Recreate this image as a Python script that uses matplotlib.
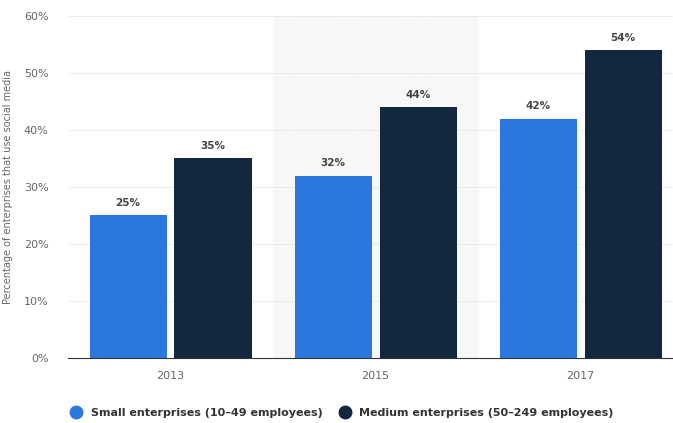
import numpy as np
import matplotlib.pyplot as plt
from matplotlib.lines import Line2D

years = ['2013', '2015', '2017']
small = [25, 32, 42]
medium = [35, 44, 54]
series_names = ['Small enterprises (10–49 employees)', 'Medium enterprises (50–249 employees)']
colors = ['#2b77de', '#13273f']

fig = plt.figure(figsize=(6.73, 4.23), dpi=100)
ax = fig.add_axes([68 / 673, 65 / 423, 605 / 673, 342 / 423])

x = np.arange(len(years))
w = 0.376
off = 0.207

# light band behind the middle group
ax.axvspan(0.5, 1.5, color='#f7f7f7', zorder=0)

b1 = ax.bar(x - off, small, w, color=colors[0], zorder=2)
b2 = ax.bar(x + off, medium, w, color=colors[1], zorder=2)

for bars, vals in ((b1, small), (b2, medium)):
    for rect, v in zip(bars, vals):
        ax.text(rect.get_x() + rect.get_width() / 2, v + 1.3, f'{v}%',
                ha='center', va='bottom', fontsize=7.5, fontweight='bold', color='#444444')

ax.set_xlim(-0.5, 2.45)
ax.set_ylim(0, 60)
ax.set_yticks(range(0, 61, 10))
ax.set_yticklabels([f'{t}%' for t in range(0, 61, 10)])
ax.set_xticks(x)
ax.set_xticklabels(years)
ax.tick_params(axis='both', length=0, labelsize=8, colors='#666666')
ax.tick_params(axis='y', pad=14)
ax.tick_params(axis='x', pad=9)

ax.grid(axis='y', color='#dddddd', linestyle=(0, (1, 1)), linewidth=0.7, zorder=1)
for s in ['top', 'right', 'left']:
    ax.spines[s].set_visible(False)
ax.spines['bottom'].set_color('#333333')
ax.spines['bottom'].set_linewidth(0.8)
ax.spines['bottom'].set_zorder(3)

ax.set_ylabel('Percentage of enterprises that use social media', fontsize=7, color='#666666', labelpad=8)

handles = [Line2D([], [], marker='o', linestyle='', markersize=9, color=c) for c in colors]
leg = fig.legend(handles, series_names, loc='center', bbox_to_anchor=(0.504, 0.024), ncol=2,
                 frameon=False, handletextpad=0.3, columnspacing=1.0,
                 prop={'weight': 'bold', 'size': 8})
for t in leg.get_texts():
    t.set_color('#333333')

fig.savefig('out.png', dpi=100)
